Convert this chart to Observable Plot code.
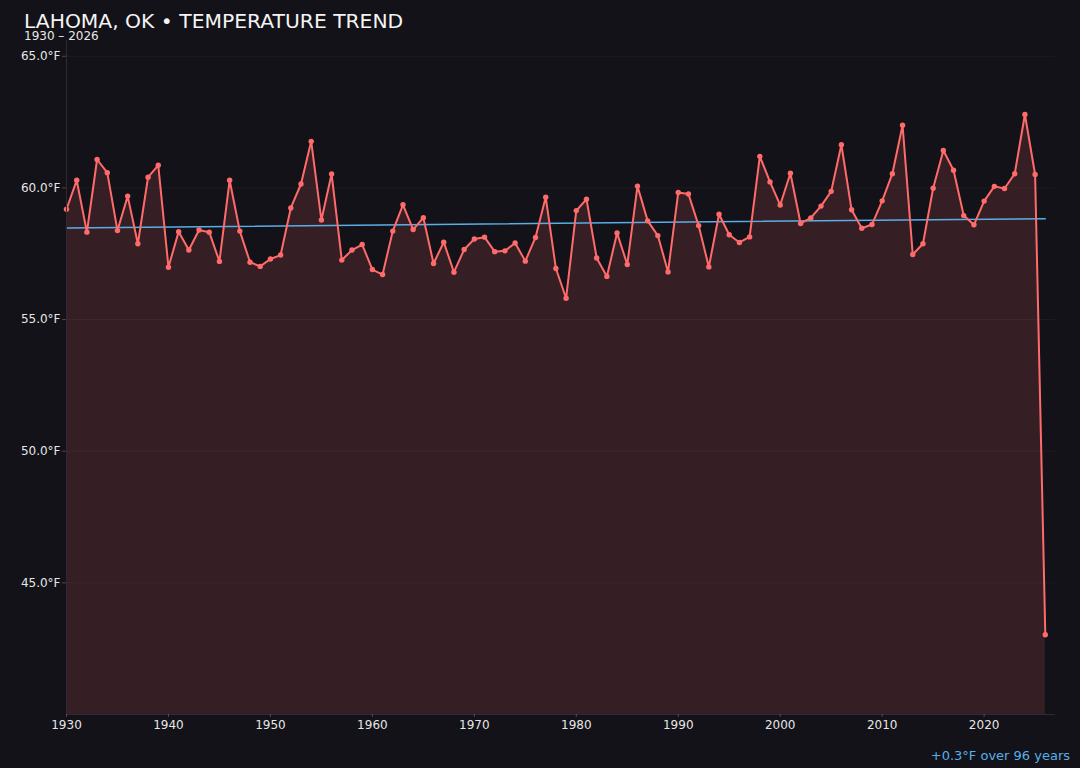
<!DOCTYPE html>
<html>
<head>
<meta charset="utf-8">
<script src="https://cdn.jsdelivr.net/npm/d3@7"></script>
<script src="https://cdn.jsdelivr.net/npm/@observablehq/plot@0.6"></script>
<style>
  html, body { margin: 0; padding: 0; background: #131218; }
  #wrap { position: relative; width: 1080px; height: 768px; background: #131218; font-family: "DejaVu Sans", sans-serif; overflow: hidden; }
  #chart { position: absolute; left: 0; top: 0; }
  .title { position: absolute; left: 24px; top: 11.5px; font-size: 20.3px; line-height: 18px; color: #f4f4f4; white-space: nowrap; }
  .subtitle { position: absolute; left: 24px; top: 29.5px; font-size: 12px; line-height: 12px; color: #e8e8e8; white-space: nowrap; }
  .caption { position: absolute; right: 10px; top: 748.5px; font-size: 13px; line-height: 14px; color: #5aaee6; white-space: nowrap; }
</style>
</head>
<body>
<div id="wrap">
  <div id="chart"></div>
  <div class="title">LAHOMA, OK • TEMPERATURE TREND</div>
  <div class="subtitle">1930 – 2026</div>
  <div class="caption">+0.3°F over 96 years</div>
</div>
<script>
const years = d3.range(1930, 2027);
const temps = [
  59.19, 60.29, 58.32, 61.08, 60.58, 58.38, 59.69, 57.88, 60.41, 60.86,
  56.99, 58.34, 57.64, 58.40, 58.32, 57.21, 60.29, 58.36, 57.18, 57.02,
  57.30, 57.45, 59.24, 60.15, 61.77, 58.78, 60.53, 57.26, 57.64, 57.85,
  56.90, 56.71, 58.36, 59.36, 58.42, 58.87, 57.13, 57.94, 56.80, 57.66,
  58.06, 58.13, 57.58, 57.61, 57.91, 57.22, 58.12, 59.65, 56.94, 55.81,
  59.14, 59.57, 57.34, 56.64, 58.29, 57.09, 60.07, 58.75, 58.19, 56.81,
  59.83, 59.77, 58.57, 57.00, 59.00, 58.22, 57.93, 58.14, 61.20, 60.23,
  59.35, 60.56, 58.65, 58.86, 59.31, 59.87, 61.64, 59.17, 58.47, 58.61,
  59.51, 60.54, 62.38, 57.47, 57.88, 59.99, 61.42, 60.67, 58.95, 58.60,
  59.50, 60.06, 59.98, 60.54, 62.79, 60.51, 43.03
];
const xTicks = [1930, 1940, 1950, 1960, 1970, 1980, 1990, 2000, 2010, 2020];
const yTicks = [45, 50, 55, 60, 65];
const xDomain = [1930, 2027];
const yDomain = [40, 65.6];

const data = years.map((year, i) => ({year, temp: temps[i]}));

const lineColor = "#ff6b6b";
const trendColor = "#5aaee6";
const axisLineColor = "#2c2b33";

const chart = Plot.plot({
  width: 1080,
  height: 740,
  marginTop: 40,
  marginBottom: 26,
  marginLeft: 66,
  marginRight: 25,
  style: {background: "transparent", fontFamily: "DejaVu Sans, sans-serif", fontSize: "12px"},
  x: {domain: xDomain, label: null},
  y: {domain: yDomain, label: null},
  marks: [
    Plot.gridY(yTicks, {stroke: "#ffffff", strokeOpacity: 0.045}),
    Plot.areaY(data, {x: "year", y: "temp", fill: lineColor, fillOpacity: 0.15, clip: true}),
    Plot.linearRegressionY(data, {x: "year", y: "temp", stroke: trendColor, strokeWidth: 1.5, ci: 0}),
    Plot.line(data, {x: "year", y: "temp", stroke: lineColor, strokeWidth: 2}),
    Plot.dot(data, {x: "year", y: "temp", fill: lineColor, r: 2.7}),
    Plot.ruleX([xDomain[0]], {stroke: axisLineColor, strokeWidth: 1}),
    Plot.ruleY([yDomain[0]], {stroke: axisLineColor, strokeWidth: 1.2}),
    Plot.axisX({ticks: xTicks, tickFormat: d => String(d), tickSize: 3, tickPadding: 3, color: "#e6e6e6", strokeOpacity: 0.25, fontSize: 12, label: null}),
    Plot.axisY({ticks: yTicks, tickFormat: d => d.toFixed(1) + "°F", tickSize: 4, tickPadding: 2, color: "#e6e6e6", strokeOpacity: 0.25, fontSize: 12, label: null})
  ]
});
document.getElementById("chart").appendChild(chart);
</script>
</body>
</html>
